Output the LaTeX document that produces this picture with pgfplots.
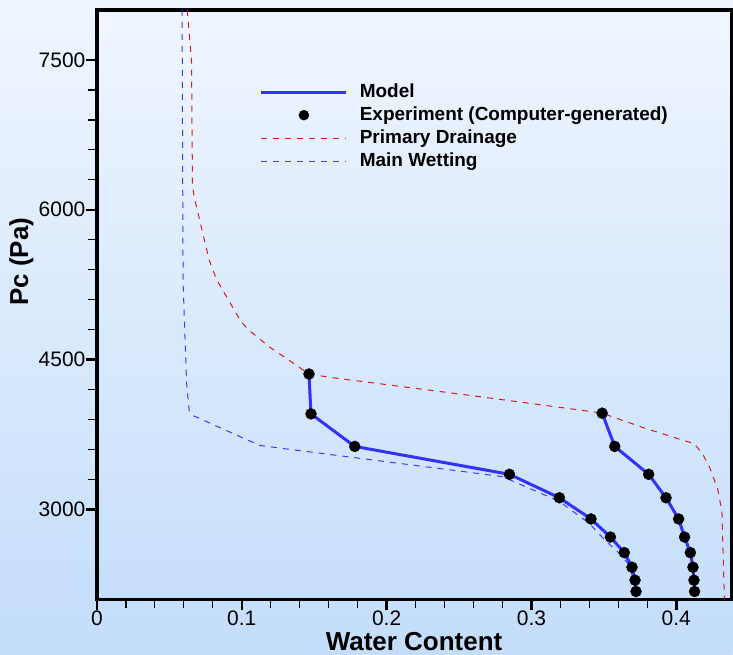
\documentclass[border=0pt]{standalone}
\usepackage{fontspec}
\setmainfont{Liberation Sans}
\usepackage{pgfplots}
\pgfplotsset{compat=1.18}
\usetikzlibrary{backgrounds}
\definecolor{bgtop}{RGB}{240,246,255}
\definecolor{bgbot}{RGB}{195,221,250}
\definecolor{modelblue}{RGB}{50,50,255}
\definecolor{pdred}{RGB}{210,30,30}
\definecolor{mwblue}{RGB}{60,60,255}
\pgfplotsset{
  longline/.style={legend image code/.code={\draw[##1] (0pt,0pt) -- (85pt,0pt);}},
  dotlegend/.style={legend image code/.code={\fill[black] (42.5pt,0pt) circle (5pt);}},
}
\begin{document}
\begin{tikzpicture}
\begin{axis}[
  scale only axis, width=635pt, height=590pt,
  xmin=0, xmax=0.43793, ymin=2100, ymax=8000,
  axis line style={line width=3.5pt},
  xtick={0,0.1,0.2,0.3,0.4}, ytick={3000,4500,6000,7500},
  minor x tick num=4, minor y tick num=4,
  tick align=outside, xtick pos=bottom, ytick pos=left,
  major tick length=11pt, minor tick length=9pt,
  every major tick/.append style={line width=2.5pt, black},
  every minor tick/.append style={line width=1.3pt, black},
  tick label style={font=\fontsize{21}{25}\selectfont},
  xticklabel style={yshift=3pt},
  yticklabel style={xshift=3pt},
  /pgf/number format/assume math mode=true,
  /pgf/number format/1000 sep={},
  xlabel={Water Content}, ylabel={Pc (Pa)},
  label style={font=\bfseries\fontsize{26}{30}\selectfont},
  xlabel style={at={(axis description cs:0.5,-0.071)}, anchor=center},
  ylabel style={at={(axis description cs:-0.119,0.573)}, anchor=center},
  legend style={at={(0.257,0.880)}, anchor=north west, draw=none, fill=none,
    inner sep=0pt, outer sep=0pt, column sep=10pt,
    font=\bfseries\fontsize{19}{22}\selectfont,
    nodes={text height=15pt, text depth=4pt, inner sep=2pt}},
  legend cell align=left,
]
% Model (left branch)
\addplot[modelblue, line width=3pt, longline]
  coordinates {
  (0.1464,4356) (0.1478,3957) (0.1780,3631) (0.2848,3352) (0.3193,3117)
  (0.3411,2905) (0.3545,2724) (0.3641,2568) (0.3694,2422) (0.3715,2292) (0.3722,2179)
  };
\addlegendentry{Model}
% Model (right branch)
\addplot[modelblue, line width=3pt, forget plot]
  coordinates {
  (0.3488,3964) (0.3575,3631) (0.3809,3352) (0.3929,3117) (0.4016,2905)
  (0.4057,2724) (0.4097,2568) (0.4115,2422) (0.4122,2292) (0.4126,2179)
  };
% Experiment
\addplot[only marks, mark=*, mark size=5.5pt, black, dotlegend]
  coordinates {
  (0.1464,4356) (0.1478,3957) (0.1780,3631) (0.2848,3352) (0.3193,3117)
  (0.3411,2905) (0.3545,2724) (0.3641,2568) (0.3694,2422) (0.3715,2292) (0.3722,2179)
  };
\addlegendentry{Experiment (Computer-generated)}
\addplot[only marks, mark=*, mark size=5.5pt, black, forget plot]
  coordinates {
  (0.3488,3964) (0.3575,3631) (0.3809,3352) (0.3929,3117) (0.4016,2905)
  (0.4057,2724) (0.4097,2568) (0.4115,2422) (0.4122,2292) (0.4126,2179)
  };
% Primary Drainage
\addplot[pdred, line width=1pt, dash pattern=on 6pt off 6pt, longline]
  coordinates {
  (0.0623,8000) (0.0653,7497) (0.0660,6230) (0.0676,6101) (0.0733,5752)
  (0.0774,5502) (0.0826,5303) (0.0917,5074) (0.0998,4874) (0.1055,4788)
  (0.1193,4625) (0.1331,4489) (0.1464,4356) (0.1607,4323) (0.2619,4134)
  (0.3481,3967) (0.3653,3880) (0.3779,3815) (0.4124,3658) (0.4181,3558)
  (0.4228,3429) (0.4285,3209) (0.4315,2980) (0.4331,2146) (0.4332,2100)
  };
\addlegendentry{Primary Drainage}
% Main Wetting
\addplot[mwblue, line width=1pt, dash pattern=on 6pt off 6pt, longline]
  coordinates {
  (0.0588,8000) (0.0595,5273) (0.0619,4276) (0.0637,3990) (0.0664,3940)
  (0.1124,3641) (0.1297,3608) (0.1837,3508) (0.2800,3329) (0.3193,3080)
  (0.3400,2860) (0.3515,2681) (0.3584,2594) (0.3676,2445) (0.3717,2212) (0.3722,2100)
  };
\addlegendentry{Main Wetting}
\end{axis}
\begin{scope}[on background layer]
\shade[top color=bgtop, bottom color=bgbot] (-97pt,-55pt) rectangle (636pt,600pt);
\end{scope}
\end{tikzpicture}
\end{document}
